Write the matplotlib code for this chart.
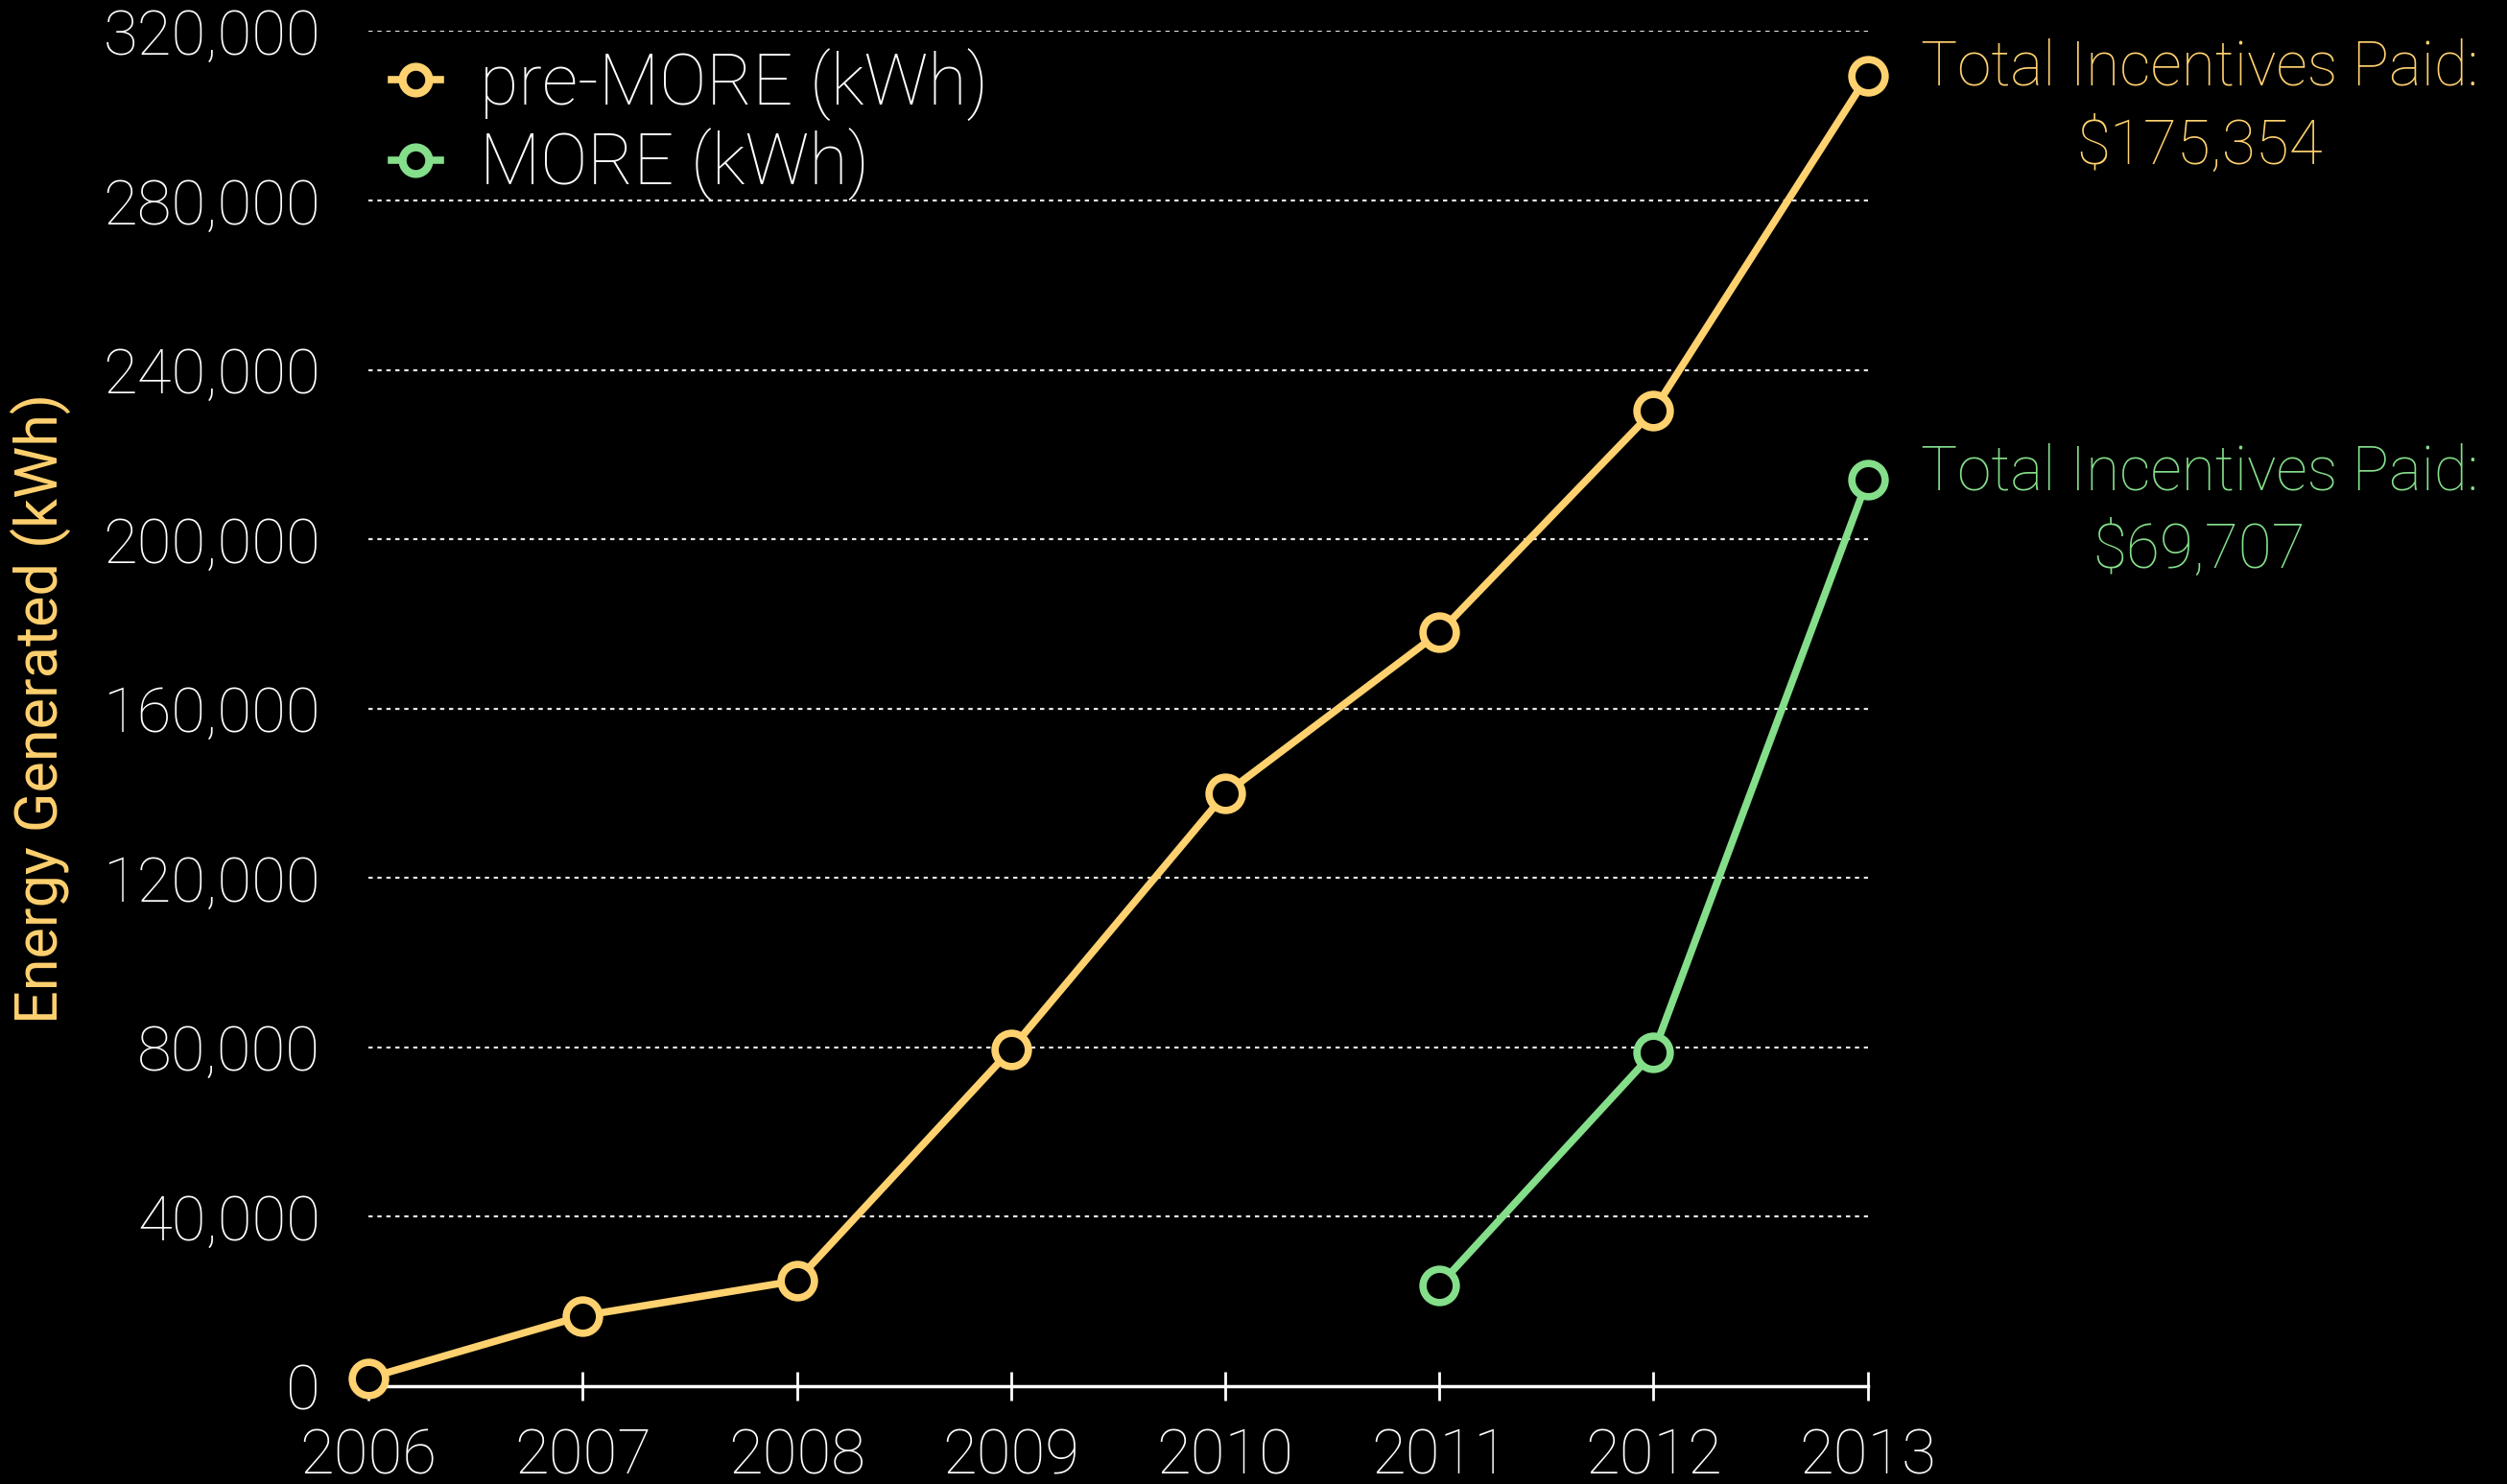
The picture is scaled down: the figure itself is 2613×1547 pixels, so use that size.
import matplotlib
matplotlib.use("Agg")
import matplotlib.pyplot as plt
from matplotlib.ticker import FuncFormatter

# Values.
years = [2006, 2007, 2008, 2009, 2010, 2011, 2012, 2013]
pre_more_kwh = [1900, 16600, 24900, 79500, 139900, 178000, 230400, 309500]
more_years = [2011, 2012, 2013]
more_kwh = [23800, 78800, 214100]
y_ticks = [0, 40000, 80000, 120000, 160000, 200000, 240000, 280000, 320000]
pre_more_total = "$175,354"
more_total = "$69,707"

YELLOW = "#FFD16F"
GREEN = "#84DE8A"
FONT = ["Roboto", "DejaVu Sans"]

fig = plt.figure(figsize=(26.13, 15.47), dpi=100, facecolor="black")
ax = fig.add_axes([0.147, 0.066, 0.598, 0.913], facecolor="black")

line_kw = dict(lw=5.5, marker="o", ms=25, mew=5.5, mfc="black", clip_on=False, zorder=3)
ax.plot(years, pre_more_kwh, color=YELLOW, mec=YELLOW, label="pre-MORE (kWh)", **line_kw)
ax.plot(more_years, more_kwh, color=GREEN, mec=GREEN, label="MORE (kWh)", **line_kw)

ax.set_xlim(years[0], years[-1])
ax.set_ylim(0, 320000)
ax.set_xticks(years)
ax.set_yticks(y_ticks)
ax.yaxis.set_major_formatter(FuncFormatter(lambda v, _: f"{int(v):,}"))

# dotted grid for every tick except the baseline
for v in y_ticks[1:]:
    ax.axhline(v, color="white", lw=1.6, ls=(0, (2, 2.2)), alpha=0.9, zorder=1)

for side in ("top", "right", "left"):
    ax.spines[side].set_visible(False)
ax.spines["bottom"].set_color("white")
ax.spines["bottom"].set_linewidth(2.5)

ax.tick_params(axis="x", colors="white", direction="inout", length=22, width=2, pad=20)
ax.tick_params(axis="y", colors="white", length=0, pad=36)
for lab in ax.get_xticklabels() + ax.get_yticklabels():
    lab.set_family(FONT)
    lab.set_fontweight("light")
    lab.set_fontsize(47)
    lab.set_color("white")

ax.set_ylabel("Energy Generated (kWh)", color=YELLOW, fontsize=44,
              family=FONT, labelpad=24)

leg = ax.legend(loc="upper left", bbox_to_anchor=(-0.018, 1.024), frameon=False,
                handlelength=0.7, handletextpad=0.55, labelspacing=0.1,
                prop=dict(family=FONT, size=53, weight="light"), borderaxespad=0.3)
for txt in leg.get_texts():
    txt.set_color("white")
for h in leg.legend_handles:
    h.set_markersize(20)
    h.set_markeredgewidth(6)

for total, last_y, col in ((pre_more_total, pre_more_kwh[-1], YELLOW),
                           (more_total, more_kwh[-1], GREEN)):
    ax.annotate(f"Total Incentives Paid:\n{total}", xy=(years[-1], last_y),
                xytext=(249, 28), textcoords="offset points", ha="center", va="top",
                color=col, fontsize=46, family=FONT, fontweight="light",
                linespacing=1.4, annotation_clip=False)

fig.savefig("out.png", dpi=100, facecolor="black")
